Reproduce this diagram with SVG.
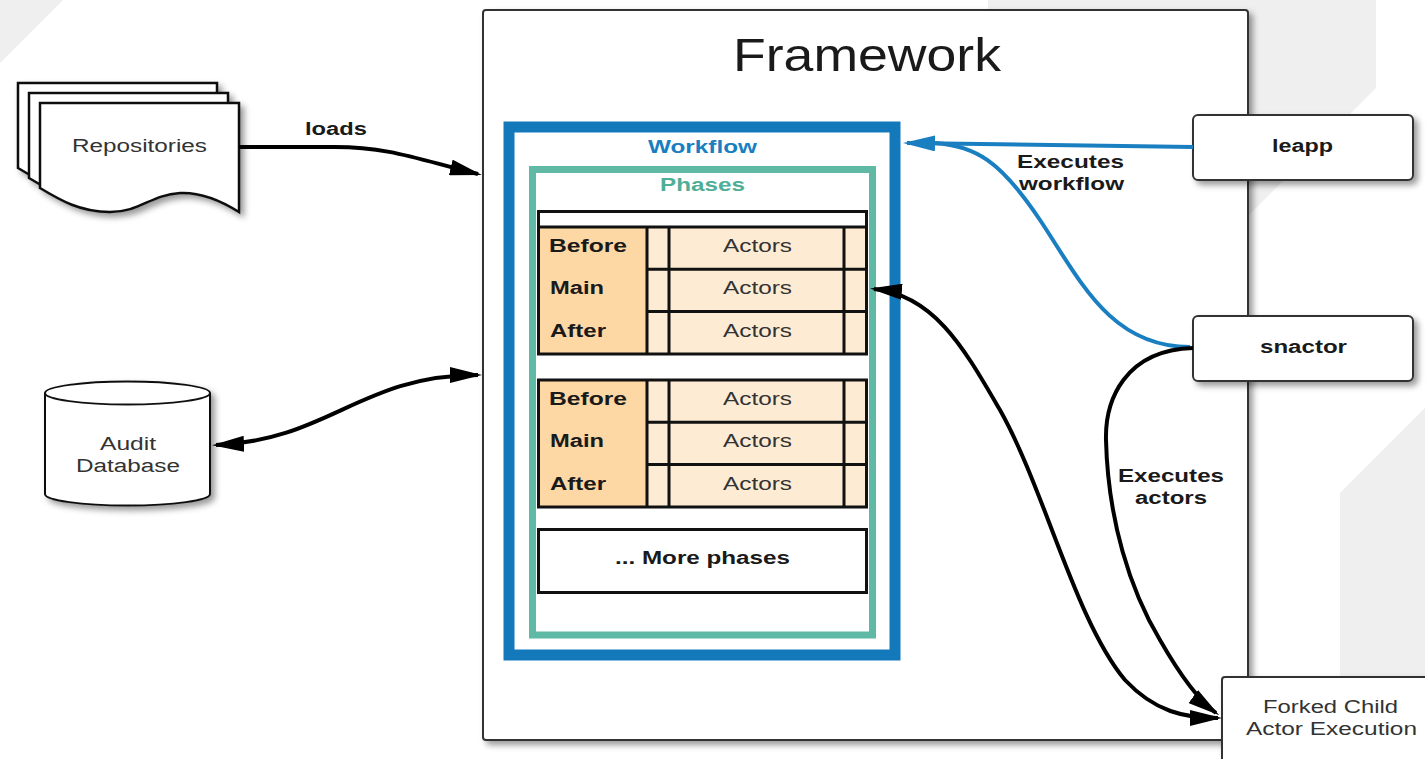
<svg xmlns="http://www.w3.org/2000/svg" xmlns:xlink="http://www.w3.org/1999/xlink" width="1425" height="759" viewBox="0 0 1425 759">
<style>
text{font-family:"Liberation Sans",Arial,sans-serif}
.lbl{font-size:18px;fill:#333}
.b{font-size:18px;font-weight:bold;fill:#1a1a1a}
.box{fill:#fff;stroke:#333;stroke-width:2}
.tbl{fill:none;stroke:#111;stroke-width:3}
.conn{fill:none;stroke:#000;stroke-width:4}
.blue{fill:none;stroke:#1a7fc1;stroke-width:4}
</style>
<defs>
<filter id="sh" x="-10%" y="-10%" width="130%" height="130%">
<feDropShadow dx="4" dy="4" stdDeviation="3" flood-color="#000" flood-opacity="0.4"/>
</filter>
<marker id="ah" markerUnits="userSpaceOnUse" markerWidth="32" markerHeight="16" refX="28" refY="8" orient="auto-start-reverse">
<path d="M0,0 L32,8 L0,16 z" fill="#000"/>
</marker>
<marker id="ahb" markerUnits="userSpaceOnUse" markerWidth="32" markerHeight="16" refX="28" refY="8" orient="auto">
<path d="M0,0 L32,8 L0,16 z" fill="#1a7fc1"/>
</marker>
<path id="doc" d="M40,103 L239,103 L239,212 C220,200 200,192 180,193 C150,195 140,212 110,212 C80,212 60,200 40,188 Z"/>
</defs>
<rect width="1425" height="759" fill="#fff"/>
<g id="background" fill="#efefef">
<polygon points="0,0 63,0 0,63"/>
<polygon points="988,0 1376,0 1376,88 1250,214 988,214"/>
<polygon points="1340,493 1425,408 1425,759 1340,759"/>
</g>

<g id="framework">
<rect x="483" y="10" width="765" height="730" rx="3" class="box" filter="url(#sh)"/>
<text x="733" y="71" font-size="46" fill="#1a1a1a" textLength="268" lengthAdjust="spacingAndGlyphs">Framework</text>
</g>

<g id="workflow">
<rect x="509" y="127" width="386" height="528" fill="#fff" stroke="#1479bb" stroke-width="11"/>
<text x="648" y="153" font-size="19" font-weight="bold" fill="#1a7fc1" textLength="109" lengthAdjust="spacingAndGlyphs">Workflow</text>
</g>

<g id="phases">
<rect x="532.5" y="169.5" width="340" height="465.5" fill="#fff" stroke="#5fb9a5" stroke-width="7"/>
<text x="660" y="191" font-size="18" font-weight="bold" fill="#4fae96" textLength="85" lengthAdjust="spacingAndGlyphs">Phases</text>
</g>

<g id="phase-table-1">
<rect x="538.5" y="211.5" width="328" height="142.5" fill="#fff"/>
<rect x="538.5" y="227" width="108.5" height="127" fill="#fdd8a5"/>
<rect x="647" y="227" width="219.5" height="127" fill="#feebd3"/>
<path class="tbl" d="M538.5,227 H866.5 M647,227 V354 M669,227 V354 M844,227 V354 M647,269.3 H866.5 M647,311.6 H866.5"/>
<rect x="538.5" y="211.5" width="328" height="142.5" class="tbl"/>
<text class="b" x="549" y="252" textLength="78" lengthAdjust="spacingAndGlyphs">Before</text>
<text class="b" x="550" y="294" textLength="54" lengthAdjust="spacingAndGlyphs">Main</text>
<text class="b" x="550" y="337" textLength="56" lengthAdjust="spacingAndGlyphs">After</text>
<text class="lbl" x="723" y="252" textLength="69" lengthAdjust="spacingAndGlyphs">Actors</text>
<text class="lbl" x="723" y="294" textLength="69" lengthAdjust="spacingAndGlyphs">Actors</text>
<text class="lbl" x="723" y="337" textLength="69" lengthAdjust="spacingAndGlyphs">Actors</text>
</g>

<g id="phase-table-2">
<rect x="538.5" y="380" width="108.5" height="127" fill="#fdd8a5"/>
<rect x="647" y="380" width="219.5" height="127" fill="#feebd3"/>
<path class="tbl" d="M647,380 V507 M669,380 V507 M844,380 V507 M647,422.3 H866.5 M647,464.6 H866.5"/>
<rect x="538.5" y="380" width="328" height="127" class="tbl"/>
<text class="b" x="549" y="405" textLength="78" lengthAdjust="spacingAndGlyphs">Before</text>
<text class="b" x="550" y="447" textLength="54" lengthAdjust="spacingAndGlyphs">Main</text>
<text class="b" x="550" y="490" textLength="56" lengthAdjust="spacingAndGlyphs">After</text>
<text class="lbl" x="723" y="405" textLength="69" lengthAdjust="spacingAndGlyphs">Actors</text>
<text class="lbl" x="723" y="447" textLength="69" lengthAdjust="spacingAndGlyphs">Actors</text>
<text class="lbl" x="723" y="490" textLength="69" lengthAdjust="spacingAndGlyphs">Actors</text>
</g>

<g id="more-phases">
<rect x="538.5" y="529.5" width="328" height="63" fill="#fff" class="tbl"/>
<text class="b" x="615" y="564" textLength="175" lengthAdjust="spacingAndGlyphs">... More phases</text>
</g>

<g id="repositories">
<g filter="url(#sh)">
<use xlink:href="#doc" transform="translate(-22,-20)" fill="#fff" stroke="#111" stroke-width="2.5"/>
<use xlink:href="#doc" transform="translate(-11,-10)" fill="#fff" stroke="#111" stroke-width="2.5"/>
<use xlink:href="#doc" fill="#fff" stroke="#111" stroke-width="2.5"/>
</g>
<text class="lbl" x="72" y="152" textLength="135" lengthAdjust="spacingAndGlyphs">Repositories</text>
</g>

<g id="audit-database">
<path d="M45,393 L45,494 A82.5,11.5 0 0 0 210,494 L210,393 A82.5,11.5 0 0 0 45,393 Z" fill="#fff" stroke="#111" stroke-width="2" filter="url(#sh)"/>
<path d="M45,393 A82.5,11.5 0 0 0 210,393" fill="none" stroke="#111" stroke-width="2"/>
<text class="lbl" x="100" y="450" textLength="56" lengthAdjust="spacingAndGlyphs">Audit</text>
<text class="lbl" x="76" y="472" textLength="104" lengthAdjust="spacingAndGlyphs">Database</text>
</g>

<g id="leapp">
<rect x="1193" y="115" width="220" height="65" rx="5" class="box" filter="url(#sh)"/>
<text class="b" x="1272" y="152" textLength="61" lengthAdjust="spacingAndGlyphs">leapp</text>
</g>

<g id="snactor">
<rect x="1193" y="316" width="220" height="65" rx="5" class="box" filter="url(#sh)"/>
<text class="b" x="1260" y="353" textLength="87" lengthAdjust="spacingAndGlyphs">snactor</text>
</g>

<g id="forked-child">
<rect x="1222" y="677" width="215" height="100" rx="3" class="box" filter="url(#sh)"/>
<text class="lbl" x="1263" y="713" textLength="135" lengthAdjust="spacingAndGlyphs">Forked Child</text>
<text class="lbl" x="1246" y="735" textLength="171" lengthAdjust="spacingAndGlyphs">Actor Execution</text>
</g>

<g id="connectors">
<path class="conn" marker-end="url(#ah)" d="M239,147 L335,147 C390,147 420,160 478,174"/>
<text class="b" x="305" y="135" textLength="62" lengthAdjust="spacingAndGlyphs">loads</text>
<path class="conn" marker-start="url(#ah)" marker-end="url(#ah)" d="M216,445 C330,440 360,375 478,375"/>
<path class="blue" marker-end="url(#ahb)" d="M1193,147 L907,143"/>
<path class="blue" d="M1190,347 C1110,347 1080,280 1040,220 C1000,160 975,146 935,143"/>
<text class="b" x="1017" y="168" textLength="107" lengthAdjust="spacingAndGlyphs">Executes</text>
<text class="b" x="1019" y="190" textLength="105" lengthAdjust="spacingAndGlyphs">workflow</text>
<path class="conn" marker-start="url(#ah)" marker-end="url(#ah)" d="M874,289 C935,295 965,350 1000,410 C1045,490 1075,620 1125,680 C1155,712 1185,718 1218,718"/>
<path class="conn" marker-end="url(#ah)" d="M1193,348 C1125,350 1105,400 1106,440 C1108,520 1130,590 1160,640 C1180,675 1198,700 1216,713"/>
<text class="b" x="1118" y="482" textLength="106" lengthAdjust="spacingAndGlyphs">Executes</text>
<text class="b" x="1135" y="504" textLength="72" lengthAdjust="spacingAndGlyphs">actors</text>
</g>
</svg>
